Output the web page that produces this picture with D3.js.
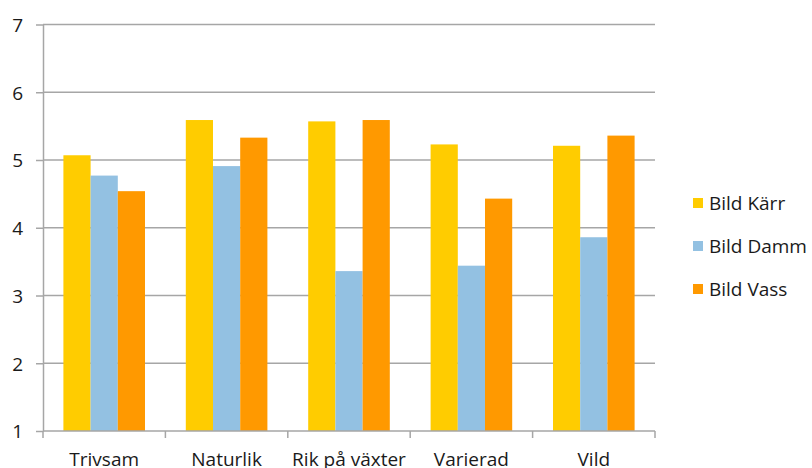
<!DOCTYPE html>
<html lang="sv">
<head>
    <meta charset="utf-8">
    <title>Bildbedömning</title>
    <script src="https://d3js.org/d3.v7.min.js"></script>
    <style>
        html, body { margin: 0; padding: 0; background: #fff; }
        text { font-family: "Open Sans", sans-serif; fill: #1a1a1a; }
        .grid line { stroke: #a6a6a6; stroke-width: 1.5px; }
        .axis path, .axis line { fill: none; stroke: #a6a6a6; stroke-width: 1.5px; }
    </style>
</head>
<body>
<script>
    var categories = ["Trivsam", "Naturlik", "Rik på växter", "Varierad", "Vild"];
    var seriesNames = ["Bild Kärr", "Bild Damm", "Bild Vass"];
    var karr = [5.07, 5.59, 5.57, 5.23, 5.21];
    var damm = [4.77, 4.91, 3.36, 3.44, 3.86];
    var vass = [4.54, 5.33, 5.59, 4.43, 5.36];
    var yTicks = [1, 2, 3, 4, 5, 6, 7];
    var colors = ["#ffcc00", "#93c1e2", "#ff9900"];

    var values = [karr, damm, vass];
    var margin = {left: 43, top: 24.5};
    var width = 612, height = 406.5;

    var svg = d3.select("body").append("svg")
        .attr("width", 812).attr("height", 468);
    var g = svg.append("g").attr("transform", "translate(" + margin.left + "," + margin.top + ")");

    var y = d3.scaleLinear().domain([1, 7]).range([height, 0]);
    var x0 = d3.scaleBand().domain(categories).range([0, width])
        .paddingInner(1 / 3).paddingOuter(1 / 6);
    var x1 = d3.scaleBand().domain(seriesNames).range([0, x0.bandwidth()]);

    // gridlines
    g.append("g").attr("class", "grid")
        .selectAll("line").data(yTicks.slice(1)).enter().append("line")
        .attr("x1", 0).attr("x2", width)
        .attr("y1", function(d) { return y(d); })
        .attr("y2", function(d) { return y(d); });

    // bars
    var rows = categories.map(function(c, i) {
        return seriesNames.map(function(s, j) { return {cat: c, name: s, value: values[j][i], color: colors[j]}; });
    });
    g.selectAll("g.cat").data(rows).enter().append("g")
        .attr("class", "cat")
        .attr("transform", function(d) { return "translate(" + x0(d[0].cat) + ",0)"; })
        .selectAll("rect").data(function(d) { return d; }).enter().append("rect")
        .attr("x", function(d) { return x1(d.name); })
        .attr("width", x1.bandwidth())
        .attr("y", function(d) { return y(d.value); })
        .attr("height", function(d) { return height - y(d.value); })
        .attr("fill", function(d) { return d.color; });

    // y axis
    var yAxis = d3.axisLeft(y).tickValues(yTicks).tickFormat(d3.format("d"))
        .tickSize(7).tickPadding(13).tickSizeOuter(0);
    g.append("g").attr("class", "axis y").call(yAxis)
        .selectAll("text").style("font-size", "19px").attr("dy", "0.36em");

    // x axis with ticks between categories
    var xb = d3.scaleLinear().domain([0, categories.length]).range([0, width]);
    var xAxisG = g.append("g").attr("class", "axis x").attr("transform", "translate(0," + height + ")");
    xAxisG.append("line").attr("x1", 0).attr("x2", width);
    xAxisG.selectAll("line.tick").data(d3.range(categories.length + 1)).enter().append("line")
        .attr("class", "tick")
        .attr("x1", function(d) { return xb(d); }).attr("x2", function(d) { return xb(d); })
        .attr("y1", 0).attr("y2", 7);
    xAxisG.selectAll("text").data(categories).enter().append("text")
        .attr("x", function(d) { return x0(d) + x0.bandwidth() / 2; })
        .attr("y", 35)
        .attr("text-anchor", "middle")
        .style("font-size", "19px")
        .text(function(d) { return d; });

    // legend
    var legend = svg.append("g").attr("transform", "translate(693,0)");
    var ly = [203, 246, 289];
    seriesNames.forEach(function(s, i) {
        legend.append("rect").attr("x", 0).attr("y", ly[i] - 5).attr("width", 10).attr("height", 10).attr("fill", colors[i]);
        legend.append("text").attr("x", 16).attr("y", ly[i]).attr("dy", "0.36em")
            .style("font-size", "19px").text(s);
    });
</script>
</body>
</html>
